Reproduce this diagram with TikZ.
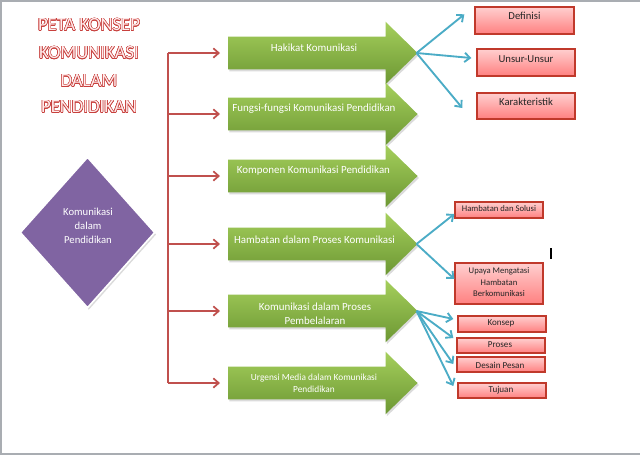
\documentclass[tikz,border=0pt]{standalone}
\usepackage{fontspec}
\setmainfont{Carlito}
\usepackage{contour}
\usetikzlibrary{arrows.meta,shapes.geometric,shadows,calc}
\definecolor{redline}{HTML}{C0504D}
\definecolor{blueline}{HTML}{4BACC6}
\definecolor{purp}{HTML}{8064A2}
\definecolor{greenTop}{HTML}{A5CF5C}
\definecolor{greenBot}{HTML}{6C9733}
\definecolor{pinkTop}{HTML}{FFCFCF}
\definecolor{pinkBot}{HTML}{FF8080}
\definecolor{pinkBorder}{HTML}{C0392B}
\definecolor{frameGray}{HTML}{A9ADB2}
\definecolor{titleFill}{HTML}{FFECEC}
\definecolor{titleLine}{HTML}{C8403D}
\contourlength{0.4pt}
\tikzset{
  body/.style={minimum width=157*0.75pt, minimum height=32*0.75pt, inner sep=0pt, anchor=west},
  greenarrow/.style={top color=greenTop, bottom color=greenBot, draw=none,
     drop shadow={fill=black!40, opacity=0.35, shadow xshift=1pt, shadow yshift=-1.5pt}},
  arrtext/.style={text=white, font=\fontsize{8.2}{10.5}\selectfont, align=center, inner sep=0pt},
  smalltext/.style={text=white, font=\fontsize{7}{9}\selectfont, align=center, inner sep=0pt},
  pinkbox/.style={top color=pinkTop, bottom color=pinkBot, draw=pinkBorder, line width=1pt, inner sep=0pt,
     drop shadow={fill=black!40, opacity=0.3, shadow xshift=1pt, shadow yshift=-1pt}},
  boxtext/.style={text=black!85, font=\fontsize{8}{10}\selectfont, align=center, inner sep=0pt},
  boxsmall/.style={text=black!85, font=\fontsize{6.5}{8.6}\selectfont, align=center, inner sep=0pt},
  redarr/.style={draw=redline, line width=1.3pt, -{Straight Barb[length=4pt,width=7pt]}},
  redtrunk/.style={draw=redline, line width=1.3pt},
  bluearr/.style={draw=blueline, line width=1.4pt, -{Straight Barb[length=4pt,width=7pt]}},
  titletext/.style={font=\fontsize{14}{15}\selectfont, inner sep=0pt}
}
\newcommand\grarrow[1]{%
  \path[greenarrow] (#1.north west) -- (#1.north east) -- ($(#1.north east)+(0,-15)$)
     -- ($(#1.east)+(32,0)$) -- ($(#1.south east)+(0,15)$) -- (#1.south east)
     -- (#1.south west) -- cycle;}
\newcommand\pbox[5]{%
  \node[pinkbox, minimum width={(#4-#2)*0.75pt}, minimum height={(#5-#3)*0.75pt}]
     (#1) at ({(#2+#4)/2},{(#3+#5)/2}) {};}
\begin{document}
\begin{tikzpicture}[x=0.75pt,y=-0.75pt]
\useasboundingbox (0,0) rectangle (640,455);
\fill[white] (0,0) rectangle (640,455);
% frame lines
\draw[frameGray, line width=1.5pt] (0,1) -- (640,1);
\draw[frameGray, line width=1.5pt] (1,0) -- (1,455);
\draw[frameGray, line width=1.5pt] (0,454) -- (640,454);

% title
\node[titletext] (t1l) at (89,25) {\contour{titleLine}{\textcolor{titleFill}{PETA KONSEP}}};
\node[titletext] (t2l) at (89,53) {\contour{titleLine}{\textcolor{titleFill}{KOMUNIKASI}}};
\node[titletext] (t3l) at (89,81) {\contour{titleLine}{\textcolor{titleFill}{DALAM}}};
\node[titletext] (t4l) at (89,107) {\contour{titleLine}{\textcolor{titleFill}{PENDIDIKAN}}};

% diamond
\node[diamond, shape aspect=0.9, minimum width=135*0.75pt, minimum height=151*0.75pt,
      fill=purp, draw=white, line width=1.2pt, inner sep=0pt,
      drop shadow={fill=black!40, opacity=0.35, shadow xshift=1pt, shadow yshift=-1.5pt}]
      (dia) at (87.5,232.5) {};
\node[text=white, font=\fontsize{8}{10.5}\selectfont, align=center, inner sep=0pt]
      (diat) at (88,226) {Komunikasi\\dalam\\Pendidikan};

% green arrows
\node[body] (a1) at (228,53) {};
\node[body] (a2) at (228,114) {};
\node[body] (a3) at (228,176) {};
\node[body] (a4) at (228,244) {};
\node[body] (a5) at (228,311) {};
\node[body] (a6) at (228,383) {};
\grarrow{a1}
\grarrow{a2}
\grarrow{a3}
\grarrow{a4}
\grarrow{a5}
\grarrow{a6}
\coordinate (tip1) at ($(a1.east)+(31,0)$);
\coordinate (tip4) at ($(a4.east)+(31,0)$);
\coordinate (tip5) at ($(a5.east)+(31,0)$);

\node[arrtext] (a1t) at (314,48) {Hakikat Komunikasi};
\node[arrtext] (a2t) at (314,109) {Fungsi-fungsi Komunikasi Pendidikan};
\node[arrtext] (a3t) at (313.5,171) {Komponen Komunikasi Pendidikan};
\node[arrtext] (a4t) at (314.5,240) {Hambatan dalam Proses Komunikasi};
\node[arrtext] (a5t) at (315,314) {Komunikasi dalam Proses\\Pembelalaran};
\node[smalltext] (a6t) at (314,383) {Urgensi Media dalam Komunikasi\\Pendidikan};

% red connectors
\coordinate (trunk) at (168,0);
\draw[redtrunk] (trunk |- a1.west) -- (trunk |- a6.west);
\foreach \n in {a1,a2,a3,a4,a5,a6}
  \draw[redarr, shorten >=8*0.75pt] (trunk |- \n.west) -- (\n.west);

% pink boxes
\pbox{d1}{475}{7}{574}{34}
\pbox{d2}{477}{49}{575}{76}
\pbox{d3}{477}{93}{575}{119}
\pbox{h1}{455}{202}{543}{218}
\pbox{h2}{455}{263}{543}{304}
\pbox{k1}{458}{316}{546}{332}
\pbox{k2}{457}{338}{545}{353}
\pbox{k3}{457}{357}{545}{372}
\pbox{k4}{458}{383}{546}{398}

\node[boxtext] (d1t) at (524.5,16) {Definisi};
\node[boxtext] (d2t) at (526,59) {Unsur-Unsur};
\node[boxtext] (d3t) at (526,102) {Karakteristik};
\node[boxsmall] (h1t) at (499,208.5) {Hambatan dan Solusi};
\node[boxsmall] (h2t) at (499,282.5) {Upaya Mengatasi\\Hambatan\\Berkomunikasi};
\node[boxsmall, font=\fontsize{6.8}{8}\selectfont] (k1t) at (501,323.5) {Konsep};
\node[boxsmall, font=\fontsize{6.8}{8}\selectfont] (k2t) at (500,345) {Proses};
\node[boxsmall, font=\fontsize{6.8}{8}\selectfont] (k3t) at (500,365) {Desain Pesan};
\node[boxsmall, font=\fontsize{6.8}{8}\selectfont] (k4t) at (501,390) {Tujuan};

% blue connectors
\draw[bluearr] (tip1) -- ($(d1.north west)+(-10,8)$);
\draw[bluearr] (tip1) -- ($(d2.west)+(-5,-4.5)$);
\draw[bluearr] (tip1) -- ($(d3.west)+(-14,2)$);
\draw[bluearr] (tip4) -- ($(h1.west)+(0,4)$);
\draw[bluearr] (tip4) -- ($(h2.west)+(0,-4.5)$);
\draw[bluearr] (tip5) -- ($(k1.west)+(-4,-5)$);
\draw[bluearr] (tip5) -- ($(k2.west)+(-3,-7.5)$);
\draw[bluearr] (tip5) -- ($(k3.west)+(-3,-0.5)$);
\draw[bluearr] (tip5) -- ($(k4.west)+(-4,-4.5)$);

% text cursor mark
\draw[black, line width=1pt] (551,248) -- (551,259);
\end{tikzpicture}
\end{document}
